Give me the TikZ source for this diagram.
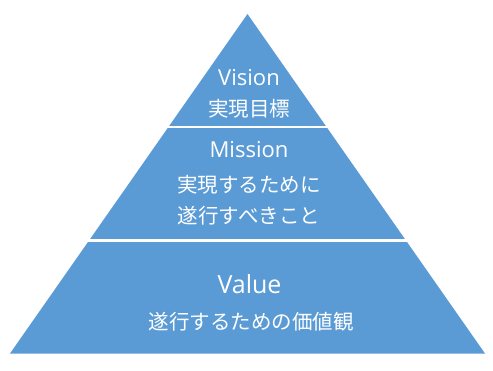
\documentclass[tikz,border=0pt]{standalone}
\usepackage{fontspec}
\setmainfont{Open Sans}
\newfontfamily\jpfont{Noto Sans CJK JP}
\definecolor{pyr}{HTML}{5B9BD5}
\tikzset{
  divider/.style={draw=white, line width=2.5pt},
  title/.style={text=white, anchor=base, inner sep=0pt},
  sub/.style={text=white, anchor=center, inner sep=0pt, font=\jpfont\fontsize{20.5}{20.5}\selectfont},
}
\begin{document}
\begin{tikzpicture}[x=1pt,y=-1pt]
\fill[white] (0,0) rectangle (493,370);
\useasboundingbox (0,0) rectangle (493,370);
\coordinate (apex) at (247.5,14);
\coordinate (bl) at (10,353.5);
\coordinate (br) at (485,353.5);
\fill[pyr] (apex) -- (bl) -- (br) -- cycle;
\coordinate (d1l) at (150,127);
\coordinate (d1r) at (345,127);
\coordinate (d2l) at (70,240.5);
\coordinate (d2r) at (425,240.5);
\draw[divider] (d1l) -- (d1r);
\draw[divider] (d2l) -- (d2r);
\node[title, font=\fontsize{22}{22}\selectfont] (vision) at (249,85) {Vision};
\node[sub] (visionsub) at (249,109) {実現目標};
\node[title, font=\fontsize{22}{22}\selectfont] (mission) at (249,157) {Mission};
\node[sub] (missionsub1) at (249,185) {実現するために};
\node[sub] (missionsub2) at (249,216) {遂行すべきこと};
\node[title, font=\fontsize{25}{25}\selectfont] (value) at (249.5,293) {Value};
\node[sub] (valuesub) at (251,322) {遂行するための価値観};
\end{tikzpicture}
\end{document}
